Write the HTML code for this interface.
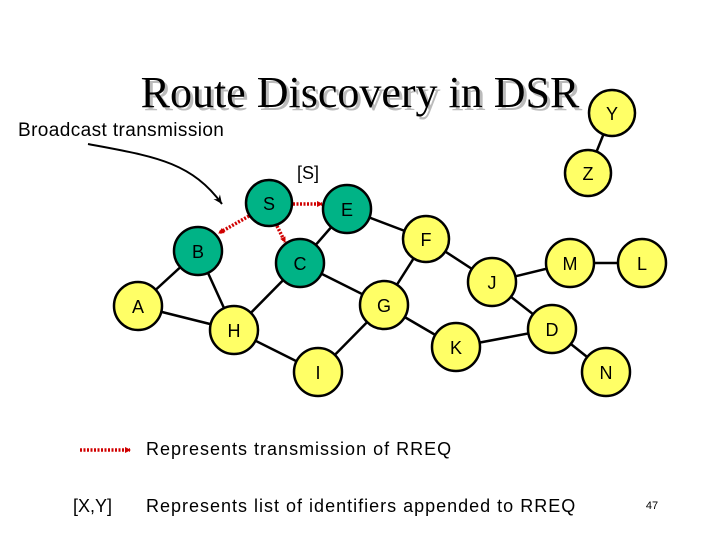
<!DOCTYPE html>
<html><head><meta charset="utf-8"><style>
html,body{margin:0;padding:0;background:#fff;}
svg{display:block;}
text{font-family:"Liberation Sans",sans-serif;}
</style></head><body>
<svg width="720" height="540" viewBox="0 0 720 540" xmlns="http://www.w3.org/2000/svg">
<defs>
<marker id="ra" markerWidth="6" markerHeight="6" refX="5" refY="3" orient="auto" markerUnits="userSpaceOnUse"><path d="M0,0 L6,3 L0,6z" fill="#d00000"/></marker>
<marker id="ba" markerWidth="10" markerHeight="10" refX="9" refY="5" orient="auto" markerUnits="userSpaceOnUse"><path d="M0,1 L9,5 L0,9 L3,5z" fill="#000"/></marker>
</defs>
<text x="363" y="110" text-anchor="middle" font-size="44" fill="#bbb" style="font-family:'Liberation Serif',serif">Route Discovery in DSR</text>
<text x="360" y="107" text-anchor="middle" font-size="44" fill="#000" style="font-family:'Liberation Serif',serif">Route Discovery in DSR</text>
<text x="18" y="136" font-size="19" letter-spacing="0.4">Broadcast transmission</text>
<path d="M88,144 C150,156 190,160 222,204" fill="none" stroke="#000" stroke-width="2" marker-end="url(#ba)"/>
<text x="308" y="179" text-anchor="middle" font-size="18">[S]</text>
<g stroke="#000" stroke-width="2.5">
<line x1="612" y1="113" x2="588" y2="173"/>
<line x1="347" y1="209" x2="300" y2="263"/>
<line x1="347" y1="209" x2="426" y2="239"/>
<line x1="426" y1="239" x2="384" y2="305"/>
<line x1="426" y1="239" x2="492" y2="282"/>
<line x1="300" y1="263" x2="384" y2="305"/>
<line x1="300" y1="263" x2="234" y2="330"/>
<line x1="198" y1="251" x2="234" y2="330"/>
<line x1="198" y1="251" x2="138" y2="306"/>
<line x1="138" y1="306" x2="234" y2="330"/>
<line x1="234" y1="330" x2="318" y2="372"/>
<line x1="318" y1="372" x2="384" y2="305"/>
<line x1="384" y1="305" x2="456" y2="347"/>
<line x1="492" y1="282" x2="570" y2="263"/>
<line x1="570" y1="263" x2="642" y2="263"/>
<line x1="492" y1="282" x2="552" y2="329"/>
<line x1="456" y1="347" x2="552" y2="329"/>
<line x1="552" y1="329" x2="606" y2="372"/>
</g>
<g stroke="#d00000" stroke-width="3.5" stroke-dasharray="2,1.5" fill="none">
<line x1="293" y1="204" x2="322" y2="204" marker-end="url(#ra)"/>
<line x1="249" y1="216" x2="219" y2="233" marker-end="url(#ra)"/>
<line x1="277" y1="226" x2="285" y2="242" marker-end="url(#ra)"/>
<line x1="80" y1="450" x2="130" y2="450" marker-end="url(#ra)"/>
</g>
<g stroke="#000" stroke-width="2.5">
<circle cx="612" cy="113" r="23" fill="#ffff66"/>
<circle cx="588" cy="173" r="23" fill="#ffff66"/>
<circle cx="269" cy="203" r="23" fill="#00b386"/>
<circle cx="347" cy="209" r="24" fill="#00b386"/>
<circle cx="198" cy="251" r="24" fill="#00b386"/>
<circle cx="300" cy="263" r="24" fill="#00b386"/>
<circle cx="426" cy="239" r="23" fill="#ffff66"/>
<circle cx="384" cy="305" r="24" fill="#ffff66"/>
<circle cx="138" cy="306" r="24" fill="#ffff66"/>
<circle cx="234" cy="330" r="24" fill="#ffff66"/>
<circle cx="318" cy="372" r="24" fill="#ffff66"/>
<circle cx="456" cy="347" r="24" fill="#ffff66"/>
<circle cx="492" cy="282" r="24" fill="#ffff66"/>
<circle cx="570" cy="263" r="24" fill="#ffff66"/>
<circle cx="642" cy="263" r="24" fill="#ffff66"/>
<circle cx="552" cy="329" r="24" fill="#ffff66"/>
<circle cx="606" cy="372" r="24" fill="#ffff66"/>
</g>
<g font-size="18" text-anchor="middle">
<text x="612" y="120">Y</text>
<text x="588" y="180">Z</text>
<text x="269" y="210">S</text>
<text x="347" y="216">E</text>
<text x="198" y="258">B</text>
<text x="300" y="270">C</text>
<text x="426" y="246">F</text>
<text x="384" y="312">G</text>
<text x="138" y="313">A</text>
<text x="234" y="337">H</text>
<text x="318" y="379">I</text>
<text x="456" y="354">K</text>
<text x="492" y="289">J</text>
<text x="570" y="270">M</text>
<text x="642" y="270">L</text>
<text x="552" y="336">D</text>
<text x="606" y="379">N</text>
</g>
<text x="146" y="455" font-size="18" letter-spacing="1">Represents transmission of RREQ</text>
<text x="73" y="512" font-size="18">[X,Y]</text>
<text x="146" y="512" font-size="18" letter-spacing="1">Represents list of identifiers appended to RREQ</text>
<text x="652" y="509" font-size="11" text-anchor="middle">47</text>
</svg>
</body></html>
